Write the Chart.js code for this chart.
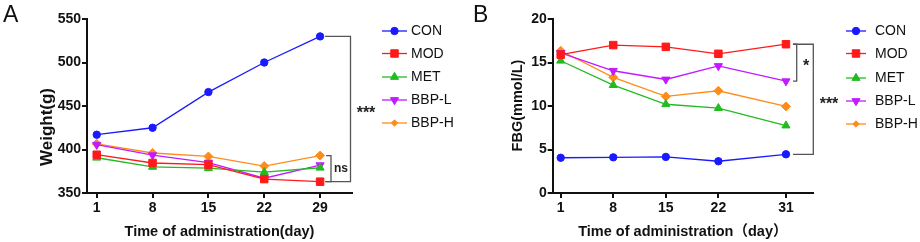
<!DOCTYPE html>
<html>
<head>
<meta charset="utf-8">
<script src="https://cdn.jsdelivr.net/npm/chart.js@4.4.1/dist/chart.umd.min.js"></script>
<style>
  html,body{margin:0;padding:0;background:#fff;}
  .panel{position:absolute;top:0;width:460px;height:242px;}
</style>
</head>
<body>
<div class="panel" style="left:0"><canvas id="chartA" width="460" height="242"></canvas></div>
<div class="panel" style="left:460px"><canvas id="chartB" width="460" height="242"></canvas></div>
<script>
// ---- data ----
const groups = ['CON', 'MOD', 'MET', 'BBP-L', 'BBP-H'];
const daysA = [1, 8, 15, 22, 29];
const daysB = [1, 8, 15, 22, 31];
const ticksWeight = [350, 400, 450, 500, 550];
const ticksFbg = [0, 5, 10, 15, 20];

const weightCON  = [417, 425, 466, 500, 530];
const weightMOD  = [394, 384.5, 382.5, 366, 363];
const weightMET  = [390.5, 380, 378.5, 374, 379];
const weightBBPL = [405.5, 393.5, 385, 367, 382];
const weightBBPH = [406.5, 396, 392, 381, 393];

const fbgCON  = [4.05, 4.1, 4.15, 3.65, 4.45];
const fbgMOD  = [15.9, 17.0, 16.8, 16.0, 17.1];
const fbgMET  = [15.2, 12.4, 10.2, 9.75, 7.75];
const fbgBBPL = [16.1, 14.05, 13.05, 14.6, 12.85];
const fbgBBPH = [16.35, 13.3, 11.1, 11.75, 9.95];

// ---- styles ----
const FONT = '"Liberation Sans", Arial, "Noto Sans CJK SC", sans-serif';
const styles = [
  {color:'#1a1aff', pointStyle:'circle',   radius:3.7, rotation:0},
  {color:'#ff1a1a', pointStyle:'rect',     radius:5.3, rotation:0},
  {color:'#22bb22', pointStyle:'triangle', radius:4.7, rotation:0},
  {color:'#c21aff', pointStyle:'triangle', radius:4.7, rotation:180},
  {color:'#ff8c1a', pointStyle:'rectRot',  radius:4.5, rotation:0}
];

function makeSets(days, arrays){
  return arrays.map(function(vals, i){
    const s = styles[i];
    return {
      label: groups[i],
      data: vals.map(function(v, k){ return {x: days[k], y: v}; }),
      borderColor: s.color, backgroundColor: s.color,
      borderWidth: 1.3, pointStyle: s.pointStyle, pointRadius: s.radius,
      pointRotation: s.rotation, pointBorderWidth: 1, tension: 0, clip: false
    };
  });
}

function drawMarker(ctx, s, x, y){
  ctx.save();
  ctx.fillStyle = s.color; ctx.strokeStyle = s.color; ctx.lineWidth = 1;
  ctx.translate(x, y);
  ctx.rotate(s.rotation * Math.PI / 180);
  const r = s.radius;
  ctx.beginPath();
  if (s.pointStyle === 'circle') ctx.arc(0, 0, r, 0, Math.PI * 2);
  else if (s.pointStyle === 'rect') { const h = r * Math.SQRT1_2; ctx.rect(-h, -h, 2 * h, 2 * h); }
  else if (s.pointStyle === 'rectRot') { const h = r * Math.SQRT1_2; ctx.moveTo(0, -h); ctx.lineTo(h, 0); ctx.lineTo(0, h); ctx.lineTo(-h, 0); ctx.closePath(); }
  else { ctx.moveTo(0, -r); ctx.lineTo(r * 0.866, r * 0.5); ctx.lineTo(-r * 0.866, r * 0.5); ctx.closePath(); }
  ctx.fill(); ctx.stroke();
  ctx.restore();
}

// draws legend, axis titles, panel letter and significance brackets
const decorPlugin = {
  id: 'decor',
  afterDatasetsDraw(chart) {
    const o = chart.options.plugins.decor;
    const ctx = chart.ctx, area = chart.chartArea;
    const xs = chart.scales.x, ys = chart.scales.y;
    ctx.save();
    // panel letter
    ctx.fillStyle = '#111';
    ctx.font = '23px ' + FONT;
    ctx.textAlign = 'left'; ctx.textBaseline = 'alphabetic';
    ctx.fillText(o.letter, o.letterX, 22);
    // x title
    ctx.font = 'bold 14.5px ' + FONT;
    ctx.textAlign = 'center'; ctx.textBaseline = 'middle';
    ctx.fillText(o.xTitle, (area.left + area.right) / 2, 231.5);
    // y title
    ctx.save();
    ctx.translate(o.yTitleX, o.yTitleY);
    ctx.rotate(-Math.PI / 2);
    ctx.font = 'bold ' + o.yTitleSize + 'px ' + FONT;
    ctx.fillText(o.yTitle, 0, 0);
    ctx.restore();
    // legend
    ctx.font = '14px ' + FONT;
    ctx.textAlign = 'left';
    groups.forEach(function(g, i){
      const y = o.legendY[i];
      const s = styles[i];
      ctx.strokeStyle = s.color; ctx.lineWidth = 1.3;
      ctx.beginPath(); ctx.moveTo(o.legendX1, y); ctx.lineTo(o.legendX2, y); ctx.stroke();
      drawMarker(ctx, s, (o.legendX1 + o.legendX2) / 2, y);
      ctx.fillStyle = '#111';
      ctx.fillText(g, o.legendTextX, y + 0.5);
    });
    // brackets
    o.brackets.forEach(function(b){
      const ds = chart.data.datasets;
      const topPt = ds[b.top].data[ds[b.top].data.length - 1];
      const botPt = ds[b.bottom].data[ds[b.bottom].data.length - 1];
      const y1 = ys.getPixelForValue(topPt.y), y2 = ys.getPixelForValue(botPt.y);
      const x0 = xs.getPixelForValue(topPt.x) + b.gap;
      ctx.strokeStyle = '#555'; ctx.lineWidth = 1.3;
      ctx.beginPath();
      ctx.moveTo(x0, y1); ctx.lineTo(b.x, y1); ctx.lineTo(b.x, y2); ctx.lineTo(x0, y2);
      ctx.stroke();
      ctx.fillStyle = '#222';
      ctx.font = b.weight + ' ' + b.size + 'px ' + FONT;
      ctx.textAlign = 'center'; ctx.textBaseline = 'middle';
      ctx.fillText(b.label, b.labelX, (y1 + y2) / 2 + b.dy);
    });
    ctx.restore();
  }
};

function makeChart(id, days, sets, yTicks, xr, areaLeft, areaRight, decor){
  return new Chart(document.getElementById(id), {
    type: 'line',
    data: {datasets: sets},
    plugins: [decorPlugin],
    options: {
      responsive: false, animation: false,
      layout: {padding: {top: 19, right: 460 - areaRight, left: 0, bottom: 0}},
      scales: {
        x: {
          type: 'linear', min: xr[0], max: xr[1],
          afterFit: function(s){ s.height = 49; },
          afterBuildTicks: function(s){ s.ticks = days.map(function(v){ return {value: v}; }); },
          grid: {drawOnChartArea: false, drawTicks: true, tickLength: 5, color: '#111', lineWidth: 2},
          border: {display: true, color: '#111', width: 2},
          ticks: {color: '#111', padding: 2, maxRotation: 0, font: {family: FONT, size: 14, weight: 'bold'}}
        },
        y: {
          min: yTicks[0], max: yTicks[yTicks.length - 1],
          afterFit: function(s){ s.width = areaLeft; },
          afterBuildTicks: function(s){ s.ticks = yTicks.map(function(v){ return {value: v}; }); },
          grid: {drawOnChartArea: false, drawTicks: true, tickLength: 5, color: '#111', lineWidth: 2},
          border: {display: true, color: '#111', width: 2},
          ticks: {color: '#111', padding: 1, font: {family: FONT, size: 14, weight: 'bold'}}
        }
      },
      plugins: {legend: {display: false}, tooltip: {enabled: false}, decor: decor}
    }
  });
}

makeChart('chartA', daysA,
  makeSets(daysA, [weightCON, weightMOD, weightMET, weightBBPL, weightBBPH]),
  ticksWeight, [-0.22, 33], 87, 352,
  {
    letter: 'A', letterX: 3,
    xTitle: 'Time of administration(day)',
    yTitle: 'Weight(g)', yTitleX: 47, yTitleY: 127, yTitleSize: 17,
    legendX1: 382, legendX2: 407, legendTextX: 411, legendY: [31, 53.5, 77, 100, 123],
    brackets: [
      {top: 0, bottom: 1, gap: 5, x: 350.5, label: '***', labelX: 366, dy: 5, size: 16, weight: 'bold'},
      {top: 4, bottom: 1, gap: 6, x: 331, label: 'ns', labelX: 341, dy: 0, size: 12, weight: 'bold'}
    ]
  });

makeChart('chartB', daysB,
  makeSets(daysB, [fbgCON, fbgMOD, fbgMET, fbgBBPL, fbgBBPH]),
  ticksFbg, [-0.065, 34.6], 92.7, 353,
  {
    letter: 'B', letterX: 13,
    xTitle: 'Time of administration（day）',
    yTitle: 'FBG(mmol/L)', yTitleX: 58, yTitleY: 105.5, yTitleSize: 14.5,
    legendX1: 386, legendX2: 406, legendTextX: 415, legendY: [31, 53.5, 78, 101, 124],
    brackets: [
      {top: 1, bottom: 3, gap: 7, x: 336.7, label: '*', labelX: 346, dy: 4, size: 16, weight: 'bold'},
      {top: 1, bottom: 0, gap: 7, x: 353.3, label: '***', labelX: 369, dy: 5, size: 16, weight: 'bold'}
    ]
  });
</script>
</body>
</html>
